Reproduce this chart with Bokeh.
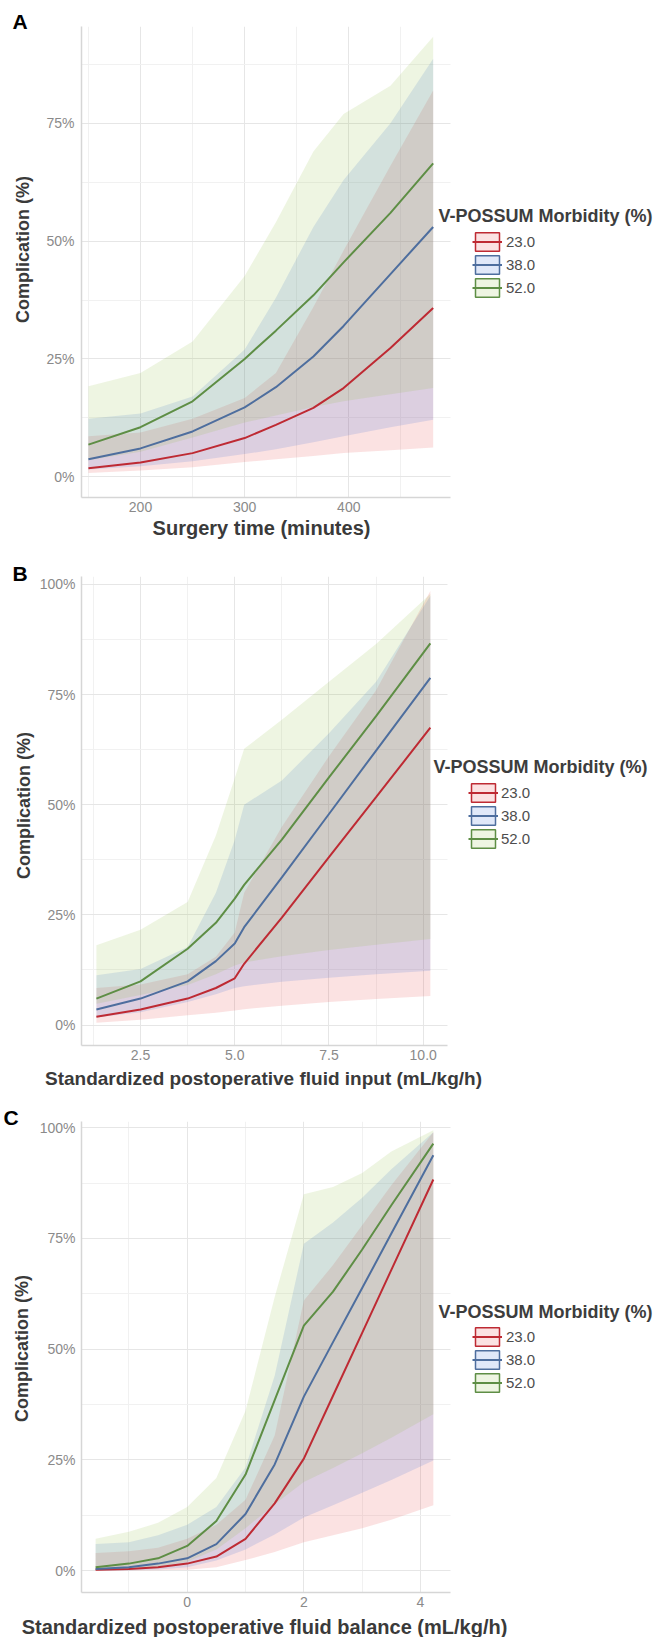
import math
import numpy as np
from bokeh.plotting import figure
from bokeh.layouts import column
from bokeh.models import (ColumnDataSource, Range1d, FixedTicker, PrintfTickFormatter,
                          Legend, LegendItem, Label)
from bokeh.embed import file_html
from bokeh.resources import INLINE

groups = ["23.0", "38.0", "52.0"]
legend_title = "V-POSSUM Morbidity (%)"
y_title = "Complication (%)"

# ---------------- Panel A: Surgery time ----------------
a_x = [150, 200, 250, 300, 330, 366, 395, 440, 481]
a_red_mean = [1.8, 3.0, 5.0, 8.2, 11.0, 14.6, 18.8, 27.3, 35.8]
a_red_lo = [0.8, 1.3, 2.0, 3.1, 3.7, 4.4, 5.0, 5.6, 6.2]
a_red_hi = [8.6, 9.4, 12.3, 16.7, 22.0, 36.0, 48.0, 66.0, 82.0]
a_blue_mean = [3.7, 6.0, 9.6, 14.7, 19.0, 25.5, 32.0, 43.0, 53.0]
a_blue_lo = [1.5, 2.2, 3.3, 4.8, 5.8, 7.3, 8.6, 10.5, 12.1]
a_blue_hi = [12.3, 13.4, 17.0, 27.0, 38.0, 53.0, 63.0, 75.0, 88.7]
a_green_mean = [6.8, 10.5, 16.0, 25.0, 31.0, 38.5, 45.5, 56.0, 66.5]
a_green_lo = [3.5, 5.3, 8.3, 11.5, 13.0, 14.8, 16.0, 17.5, 18.8]
a_green_hi = [19.2, 22.0, 28.7, 42.6, 54.0, 69.0, 77.0, 83.0, 93.4]
a_xticks = [200, 300, 400]
a_xminor = [150, 250, 350, 450]
a_yticks = [0, 25, 50, 75]
a_yminor = [12.5, 37.5, 62.5, 87.5]

# ---------------- Panel B: fluid input ----------------
b_x = [1.33, 2.5, 3.75, 4.5, 5.0, 5.25, 6.25, 7.5, 8.75, 10.19]
b_red_mean = [1.9, 3.5, 6.0, 8.4, 10.6, 13.9, 24.4, 38.1, 51.7, 67.5]
b_red_lo = [0.5, 1.2, 2.2, 2.8, 3.3, 3.6, 4.4, 5.2, 5.9, 6.6]
b_red_hi = [8.4, 9.2, 11.5, 15.5, 21.0, 30.0, 45.0, 61.0, 76.0, 98.5]
b_blue_mean = [3.5, 6.0, 9.9, 14.5, 18.5, 22.2, 33.5, 47.9, 62.3, 78.8]
b_blue_lo = [1.7, 2.9, 5.2, 7.0, 8.4, 8.8, 9.8, 10.7, 11.5, 12.3]
b_blue_hi = [11.3, 12.7, 17.7, 30.0, 42.0, 50.0, 55.5, 66.2, 77.9, 97.4]
b_green_mean = [6.0, 9.9, 17.3, 23.2, 28.7, 31.8, 42.1, 56.2, 70.1, 86.6]
b_green_lo = [4.8, 6.8, 9.1, 11.5, 13.5, 14.2, 15.6, 17.0, 18.2, 19.5]
b_green_hi = [18.1, 21.6, 27.9, 43.0, 56.0, 62.7, 69.3, 77.9, 86.5, 97.8]
b_xticks = [2.5, 5.0, 7.5, 10.0]
b_xminor = [1.25, 3.75, 6.25, 8.75]
b_yticks = [0, 25, 50, 75, 100]
b_yminor = [12.5, 37.5, 62.5, 87.5]

# ---------------- Panel C: fluid balance ----------------
c_x = [-1.57, -1.0, -0.5, 0.0, 0.5, 1.0, 1.5, 2.0, 2.5, 3.0, 3.5, 4.22]
c_red_mean = [0.2, 0.4, 0.8, 1.6, 3.2, 7.2, 15.2, 25.3, 39.5, 53.7, 67.9, 88.3]
c_red_lo = [0.0, 0.05, 0.1, 0.2, 0.8, 2.4, 4.2, 6.4, 8.0, 9.6, 11.5, 14.8]
c_red_hi = [4.0, 4.4, 5.2, 7.2, 10.4, 16.0, 30.5, 61.0, 69.0, 78.0, 87.0, 99.0]
c_blue_mean = [0.4, 0.8, 1.6, 2.8, 6.0, 12.8, 24.0, 39.3, 51.6, 63.8, 76.1, 93.8]
c_blue_lo = [0.05, 0.1, 0.3, 0.8, 2.3, 4.8, 8.2, 12.0, 14.8, 17.6, 20.5, 24.9]
c_blue_hi = [6.0, 6.4, 8.0, 10.4, 14.4, 23.3, 44.0, 73.8, 78.6, 84.2, 90.6, 99.0]
c_green_mean = [0.8, 1.6, 2.8, 5.6, 11.2, 21.7, 38.5, 55.3, 63.0, 72.5, 82.5, 96.4]
c_green_lo = [0.2, 0.4, 0.9, 2.0, 4.8, 9.6, 15.0, 20.0, 23.2, 26.5, 30.0, 35.3]
c_green_hi = [7.2, 8.8, 10.8, 14.4, 20.9, 36.1, 61.8, 85.0, 86.6, 89.8, 94.6, 99.4]
c_xticks = [0, 2, 4]
c_xminor = [-1, 1, 3]
c_yticks = [0, 25, 50, 75, 100]
c_yminor = [12.5, 37.5, 62.5, 87.5]

FILL = ["#E63C3C", "#3264D7", "#8CB93C"]
LINE = ["#BE2A33", "#4E6E9E", "#5E8E45"]
FILL_ALPHA = 0.15
FONT = "Liberation Sans"
LEFT = 81          # frame left edge (px) used for every panel
WIDTH = 665


def canvas_label(text, x, y, size, color, angle=0.0, baseline="middle", align="center"):
    return Label(x=x, y=y, x_units="canvas", y_units="canvas", text=text, text_font=FONT,
                 text_font_size=size, text_font_style="bold", text_color=color,
                 text_baseline=baseline, text_align=align, angle=angle)


def make_panel(letter, x, means, los, his, xlabel, xticks, xminor, yticks, yminor,
               xcal, x_axis_end, yr, xfmt, g):
    # xcal: two reference ticks and the pixel they sit at -> linear x scale
    (v0, px0), (v1, px1) = xcal
    ppu = (px1 - px0) / (v1 - v0)
    x_start = v0 - (px0 - LEFT) / ppu
    x_end = x_start + (WIDTH - LEFT) / ppu

    p = figure(width=WIDTH, height=g["height"], output_backend="svg", toolbar_location=None,
               x_range=Range1d(x_start, x_end), y_range=Range1d(*yr),
               min_border_left=LEFT, min_border_right=0,
               min_border_top=g["top"], min_border_bottom=g["bottom"])
    p.outline_line_color = None
    p.background_fill_color = "white"
    p.border_fill_color = "white"

    src = ColumnDataSource(dict(x=x))
    for i in range(3):
        src.data["m%d" % i] = means[i]
        src.data["lo%d" % i] = los[i]
        src.data["hi%d" % i] = his[i]

    for i in range(3):
        p.varea(x="x", y1="lo%d" % i, y2="hi%d" % i, source=src,
                fill_color=FILL[i], fill_alpha=FILL_ALPHA)
    lines = []
    for i in range(3):
        lines.append(p.line(x="x", y="m%d" % i, source=src, line_color=LINE[i], line_width=2))

    keys = []
    for i in range(3):
        keys.append(p.rect(x=np.array([np.nan]), y=np.array([np.nan]), width=1, height=1,
                           fill_color=FILL[i], fill_alpha=FILL_ALPHA,
                           line_color=LINE[i], line_width=1.5))

    items = [LegendItem(label=groups[i], renderers=[keys[i], lines[i]]) for i in range(3)]
    legend = Legend(items=items, location=(g["legend_x"] - LEFT, g["legend_y"]),
                    orientation="vertical",
                    glyph_width=30, glyph_height=23, spacing=0, padding=0, margin=0,
                    label_standoff=g["label_standoff"], label_text_font=FONT,
                    label_text_font_size="15px", label_text_color="#4d4d4d",
                    border_line_color=None, background_fill_alpha=0)
    p.add_layout(legend)

    p.add_layout(canvas_label(legend_title, g["ltitle_xy"][0], g["ltitle_xy"][1], "18px",
                              "#3d3d3d", baseline="alphabetic", align="left"))

    p.xaxis.ticker = FixedTicker(ticks=xticks, minor_ticks=xminor)
    p.yaxis.ticker = FixedTicker(ticks=yticks, minor_ticks=yminor)
    p.xaxis.formatter = PrintfTickFormatter(format=xfmt)
    p.yaxis.formatter = PrintfTickFormatter(format="%d%%")
    p.xaxis.bounds = (x_start, x_axis_end)

    for ax in (p.xaxis, p.yaxis):
        ax.axis_line_color = "#d6d6d6"
        ax.axis_line_width = 1.5
        ax.major_tick_line_color = None
        ax.minor_tick_line_color = None
        ax.major_tick_out = 0
        ax.minor_tick_out = 0
        ax.major_tick_in = 0
        ax.minor_tick_in = 0
        ax.major_label_text_font = FONT
        ax.major_label_text_font_size = "14px"
        ax.major_label_text_color = "#8a8a8a"
    p.xaxis.major_label_standoff = g["xtick_standoff"]
    p.yaxis.major_label_standoff = g["ytick_standoff"]

    for grid in (p.xgrid, p.ygrid):
        grid.grid_line_color = "#e6e6e6"
        grid.grid_line_width = 1
        grid.minor_grid_line_color = "#f1f1f1"
        grid.minor_grid_line_width = 1
    p.ygrid.cross_bounds = (x_start, x_axis_end)

    p.add_layout(canvas_label(xlabel, g["xtitle_xy"][0], g["xtitle_xy"][1],
                              g["xtitle_size"], "#3a3a3a"), "below")
    p.add_layout(canvas_label(y_title, g["ytitle_xy"][0], g["ytitle_xy"][1],
                              "18px", "#3a3a3a", angle=math.pi / 2), "left")
    p.add_layout(canvas_label(letter, g["letter_xy"][0], g["letter_xy"][1], "21px",
                              "#000000", baseline="alphabetic", align="left"), "above")
    return p


gA = dict(height=550, top=26, bottom=53, xtick_standoff=4, ytick_standoff=7,
          xtitle_size="20px", xtitle_xy=(261, 527), ytitle_xy=(22.5, 249),
          letter_xy=(12, 20.7), ltitle_xy=(438, 215.5),
          legend_x=472, legend_y=197.7, label_standoff=4)
gB = dict(height=546, top=26, bottom=51, xtick_standoff=4, ytick_standoff=6,
          xtitle_size="19px", xtitle_xy=(263, 528), ytitle_xy=(23, 255),
          letter_xy=(12, 23), ltitle_xy=(433, 216.5),
          legend_x=468, legend_y=194.7, label_standoff=3)
gC = dict(height=541, top=25, bottom=45, xtick_standoff=4, ytick_standoff=6,
          xtitle_size="20px", xtitle_xy=(264, 530), ytitle_xy=(21, 252),
          letter_xy=(3, 21), ltitle_xy=(438, 215.5),
          legend_x=472, legend_y=197.7, label_standoff=4)

pA = make_panel("A", a_x, [a_red_mean, a_blue_mean, a_green_mean],
                [a_red_lo, a_blue_lo, a_green_lo], [a_red_hi, a_blue_hi, a_green_hi],
                "Surgery time (minutes)", a_xticks, a_xminor, a_yticks, a_yminor,
                ((200, 140.0), (400, 348.3)), 497.5, (-4.42, 95.56), "%d", gA)
pB = make_panel("B", b_x, [b_red_mean, b_blue_mean, b_green_mean],
                [b_red_lo, b_blue_lo, b_green_lo], [b_red_hi, b_blue_hi, b_green_hi],
                "Standardized postoperative fluid input (mL/kg/h)", b_xticks, b_xminor,
                b_yticks, b_yminor, ((2.5, 140.0), (10.0, 422.7)), 10.633,
                (-4.65, 101.8), "%.1f", gB)
pC = make_panel("C", c_x, [c_red_mean, c_blue_mean, c_green_mean],
                [c_red_lo, c_blue_lo, c_green_lo], [c_red_hi, c_blue_hi, c_green_hi],
                "Standardized postoperative fluid balance (mL/kg/h)", c_xticks, c_xminor,
                c_yticks, c_yminor, ((0, 186.7), (4, 420.0)), 4.51,
                (-4.92, 101.4), "%d", gC)

layout = column(pA, pB, pC, spacing=0)
open("out.html", "w").write(file_html(layout, INLINE))
